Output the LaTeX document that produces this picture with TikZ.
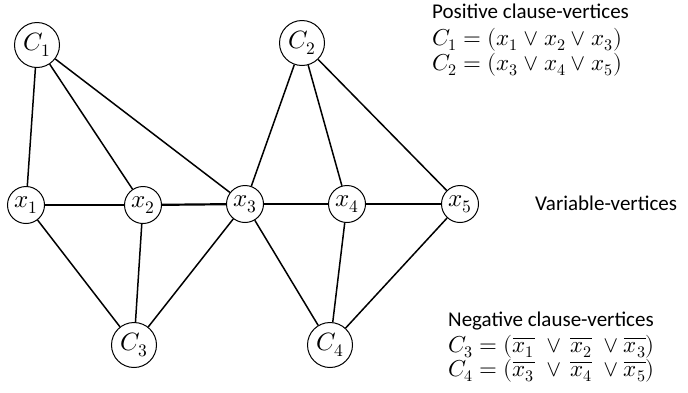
\documentclass[tikz,border=0pt]{standalone}
\usepackage{unicode-math}
\setmainfont{Carlito}
\setmathfont{Latin Modern Math}
\begin{document}
\begin{tikzpicture}[x=1pt,y=-1pt,
  vx/.style={circle,draw,line width=1pt,fill=white,minimum size=37pt,inner sep=0pt,font=\fontsize{25}{28}\selectfont},
  cl/.style={circle,draw,line width=1pt,fill=white,minimum size=45pt,inner sep=0pt,font=\fontsize{25}{28}\selectfont},
  edge/.style={line width=1.5pt},
  chain/.style={line width=2.2pt},
  lbl/.style={anchor=base west,inner sep=0pt,font=\fontsize{21}{25}\selectfont},
  mlbl/.style={anchor=base west,inner sep=0pt,font=\fontsize{23}{27}\selectfont}]
\useasboundingbox (0,0) rectangle (688,392);
\node[cl] (C1) at (37,45) {$C_1$};
\node[cl] (C2) at (302,43) {$C_2$};
\node[vx] (x1) at (26,205) {$x_1$};
\node[vx] (x2) at (143,205) {$x_2$};
\node[vx] (x3) at (245,204) {$x_3$};
\node[vx] (x4) at (347,204) {$x_4$};
\node[vx] (x5) at (460,204) {$x_5$};
\node[cl] (C3) at (134,345) {$C_3$};
\node[cl] (C4) at (330,345) {$C_4$};
\draw[edge] (C1) -- (x1);
\draw[edge] (C1) -- (x2);
\draw[edge] (C1) -- (x3);
\draw[edge] (C2) -- (x3);
\draw[edge] (C2) -- (x4);
\draw[edge] (C2) -- (x5);
\draw[edge] (C3) -- (x1);
\draw[edge] (C3) -- (x2);
\draw[edge] (C3) -- (x3);
\draw[edge] (C4) -- (x3);
\draw[edge] (C4) -- (x4);
\draw[edge] (C4) -- (x5);
\draw[chain] (x1) -- (x2);
\draw[chain] (x2) -- (x3);
\draw[chain] (x3) -- (x4);
\draw[chain] (x4) -- (x5);
\node[lbl] (pos) at (432,18) {Positive clause-vertices};
\node[mlbl] (c1t) at (432,45) {$C_1=(x_1\vee x_2\vee x_3)$};
\node[mlbl] (c2t) at (432,70) {$C_2=(x_3\vee x_4\vee x_5)$};
\node[lbl] (var) at (535,210) {Variable-vertices};
\node[lbl] (neg) at (448,326) {Negative clause-vertices};
\node[mlbl] (c3t) at (448,352) {$C_3=(\overline{x_1}\;\vee\,\overline{x_2}\;\vee\overline{x_3})$};
\node[mlbl] (c4t) at (448,376) {$C_4=(\overline{x_3}\;\vee\,\overline{x_4}\;\vee\overline{x_5})$};
\end{tikzpicture}
\end{document}
